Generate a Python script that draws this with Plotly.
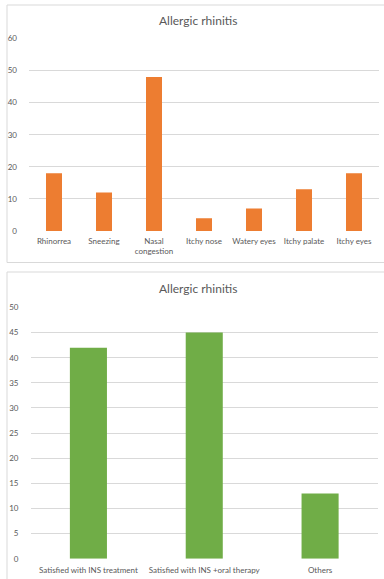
import plotly.graph_objects as go

# Symptom counts (upper chart)
symptoms = ["Rhinorrea", "Sneezing", "Nasal congestion", "Itchy nose",
            "Watery eyes", "Itchy palate", "Itchy eyes"]
symptom_labels = ["Rhinorrea", "Sneezing", "Nasal<br>congestion", "Itchy nose",
                  "Watery eyes", "Itchy palate", "Itchy eyes"]
symptom_counts = [18, 12, 48, 4, 7, 13, 18]
symptom_ticks = [0, 10, 20, 30, 40, 50, 60]

# Treatment satisfaction (lower chart)
outcomes = ["Satisfied with INS treatment", "Satisfied with INS +oral therapy", "Others"]
outcome_counts = [42, 45, 13]
outcome_ticks = [0, 5, 10, 15, 20, 25, 30, 35, 40, 45, 50]

chart_title = "Allergic rhinitis"

W, H = 384, 579
FONT = "Lato"
TEXT = "#595959"
GRID = "#d9d9d9"
ORANGE = "#ED7D31"
GREEN = "#70AD47"


def px_x(v):
    return v / W


def px_y(v):
    return 1 - v / H


fig = go.Figure()

fig.add_trace(go.Bar(x=symptoms, y=symptom_counts, marker=dict(color=ORANGE, line=dict(width=0)),
                     xaxis="x", yaxis="y", showlegend=False))
fig.add_trace(go.Bar(x=outcomes, y=outcome_counts, marker=dict(color=GREEN, line=dict(width=0)),
                     xaxis="x2", yaxis="y2", showlegend=False))

axis_common = dict(showline=False, zeroline=False, ticks="",
                   tickfont=dict(family=FONT, size=8, color=TEXT))

fig.update_layout(
    template="none",
    width=W, height=H,
    margin=dict(l=0, r=0, t=0, b=0),
    paper_bgcolor="white", plot_bgcolor="white",
    bargap=0.68,
    xaxis=dict(domain=[px_x(29), px_x(379)], anchor="y", showgrid=False,
               tickmode="array", tickvals=symptoms, ticktext=symptom_labels,
               ticklabelstandoff=4, **axis_common),
    yaxis=dict(domain=[px_y(231), px_y(38.5)], anchor="x", range=[0, 60],
               tickmode="array", tickvals=symptom_ticks,
               showgrid=True, gridcolor=GRID, gridwidth=1,
               ticklabelstandoff=11, **axis_common),
    xaxis2=dict(domain=[px_x(30.5), px_x(378)], anchor="y2", showgrid=False,
                ticklabelstandoff=5, **axis_common),
    yaxis2=dict(domain=[px_y(558.7), px_y(307.5)], anchor="x2", range=[0, 50],
                tickmode="array", tickvals=outcome_ticks,
                showgrid=True, gridcolor=GRID, gridwidth=1,
                ticklabelstandoff=11, **axis_common),
)

# Chart frames
fig.add_shape(type="rect", xref="paper", yref="paper",
              x0=px_x(7), x1=px_x(392), y0=px_y(262.5), y1=px_y(5),
              line=dict(color=GRID, width=1), fillcolor="rgba(0,0,0,0)", layer="below")
fig.add_shape(type="rect", xref="paper", yref="paper",
              x0=px_x(7), x1=px_x(392), y0=px_y(590), y1=px_y(272),
              line=dict(color=GRID, width=1), fillcolor="rgba(0,0,0,0)", layer="below")

# Titles
for yc in (20, 288):
    fig.add_annotation(text=chart_title, xref="paper", yref="paper",
                       x=px_x(198), y=px_y(yc), xanchor="center", yanchor="middle",
                       showarrow=False, font=dict(family=FONT, size=12, color=TEXT))

fig.write_html("out.html")
